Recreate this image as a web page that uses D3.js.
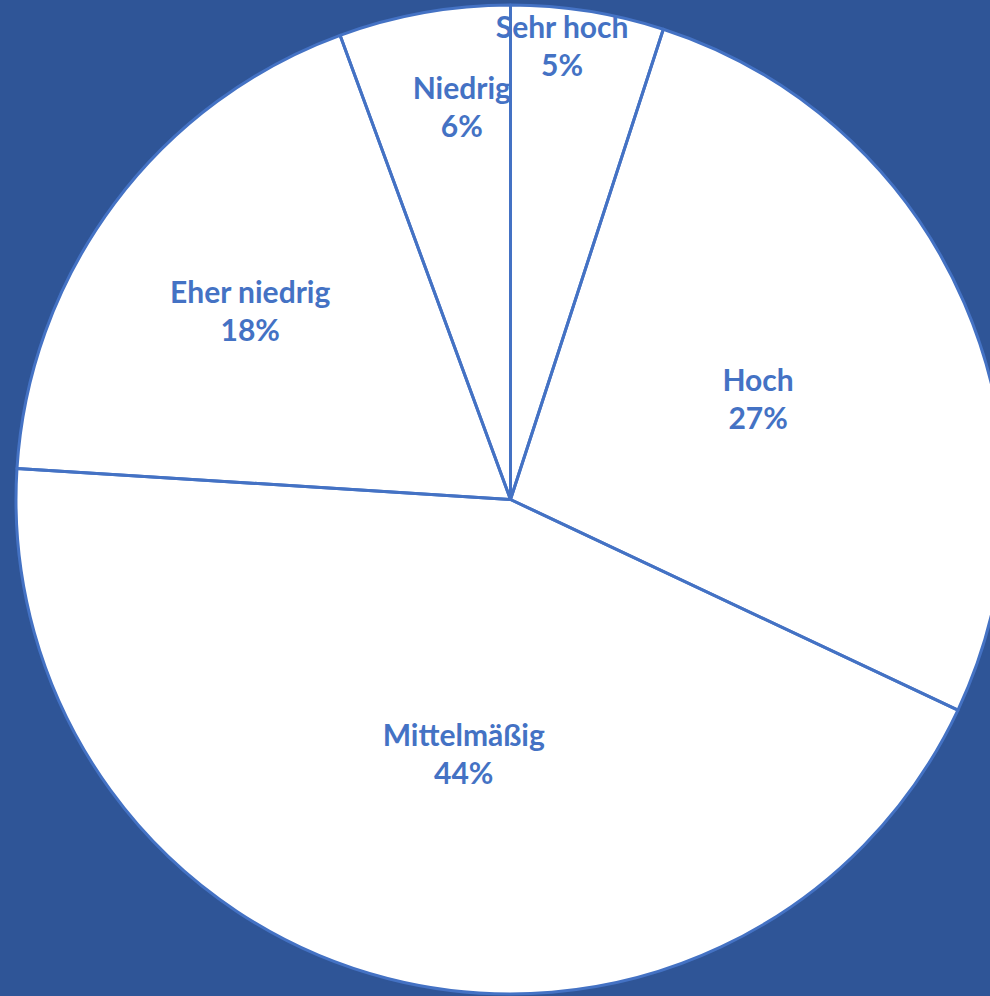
<!DOCTYPE html>
<html>
<head>
<meta charset="utf-8">
<script src="https://cdn.jsdelivr.net/npm/d3@7"></script>
<style>
  body { margin: 0; background: #2F5597; overflow: hidden; }
</style>
</head>
<body>
<svg id="main_pie"></svg>
<script>
// data (share in percent, clockwise from 12 o'clock)
let categories = ["Sehr hoch", "Hoch", "Mittelmäßig", "Eher niedrig", "Niedrig"]
let shares = [5, 27, 44, 18.4, 5.6]

function getConfig() {
  let width = 990
  let height = 996
  let cx = 510.5
  let cy = 499.5
  let radius = 494.5
  let container = d3.select("#main_pie")
    .attr("width", width)
    .attr("height", height)
  return { width, height, cx, cy, radius, container }
}

// label placement as Excel "best fit" put them: fraction of radius and angle nudge (deg)
let labelPlacement = [
  { r: 0.922, da: -2.5 },
  { r: 0.54, da: 1.4 },
  { r: 0.524, da: -4 },
  { r: 0.65, da: -0.8 },
  { r: 0.80, da: 3 }
]

function drawPie() {
  let { cx, cy, radius, container } = getConfig()

  let rows = categories.map((c, i) => ({ name: c, value: shares[i] }))
  let total = d3.sum(shares)

  let pie = d3.pie()
    .value(d => d.value)
    .sort(null)
  let arcs = pie(rows)

  let arc = d3.arc()
    .innerRadius(0)
    .outerRadius(radius)

  let g = container.append("g")
    .attr("transform", `translate(${cx},${cy})`)

  // slice fills
  g.selectAll("path.fill")
    .data(arcs)
    .enter()
    .append("path")
      .attr("class", "fill")
      .attr("d", arc)
      .style("fill", "#ffffff")

  let labels = g.selectAll("text.lbl")
    .data(arcs)
    .enter()
    .append("text")
      .attr("class", "lbl")
      .attr("transform", (d, i) => {
        let p = labelPlacement[i]
        let a = (d.startAngle + d.endAngle) / 2 + p.da * Math.PI / 180
        let x = Math.sin(a) * radius * p.r
        let y = -Math.cos(a) * radius * p.r
        return `translate(${x},${y})`
      })
      .attr("text-anchor", "middle")
      .style("font-family", "Lato, 'Open Sans', sans-serif")
      .style("font-weight", "bold")
      .style("font-size", "30px")
      .style("fill", "#4472C4")

  labels.append("tspan")
    .attr("x", 0)
    .attr("y", -19)
    .attr("dy", "0.36em")
    .text(d => d.data.name)

  labels.append("tspan")
    .attr("x", 0)
    .attr("y", 19)
    .attr("dy", "0.36em")
    .text(d => d3.format(".0f")(d.data.value / total * 100) + "%")

  // slice borders on top of the labels
  g.selectAll("path.edge")
    .data(arcs)
    .enter()
    .append("path")
      .attr("class", "edge")
      .attr("d", arc)
      .style("fill", "none")
      .style("stroke", "#4472C4")
      .style("stroke-width", 3)
      .style("stroke-linejoin", "round")
}

drawPie()
</script>
</body>
</html>
